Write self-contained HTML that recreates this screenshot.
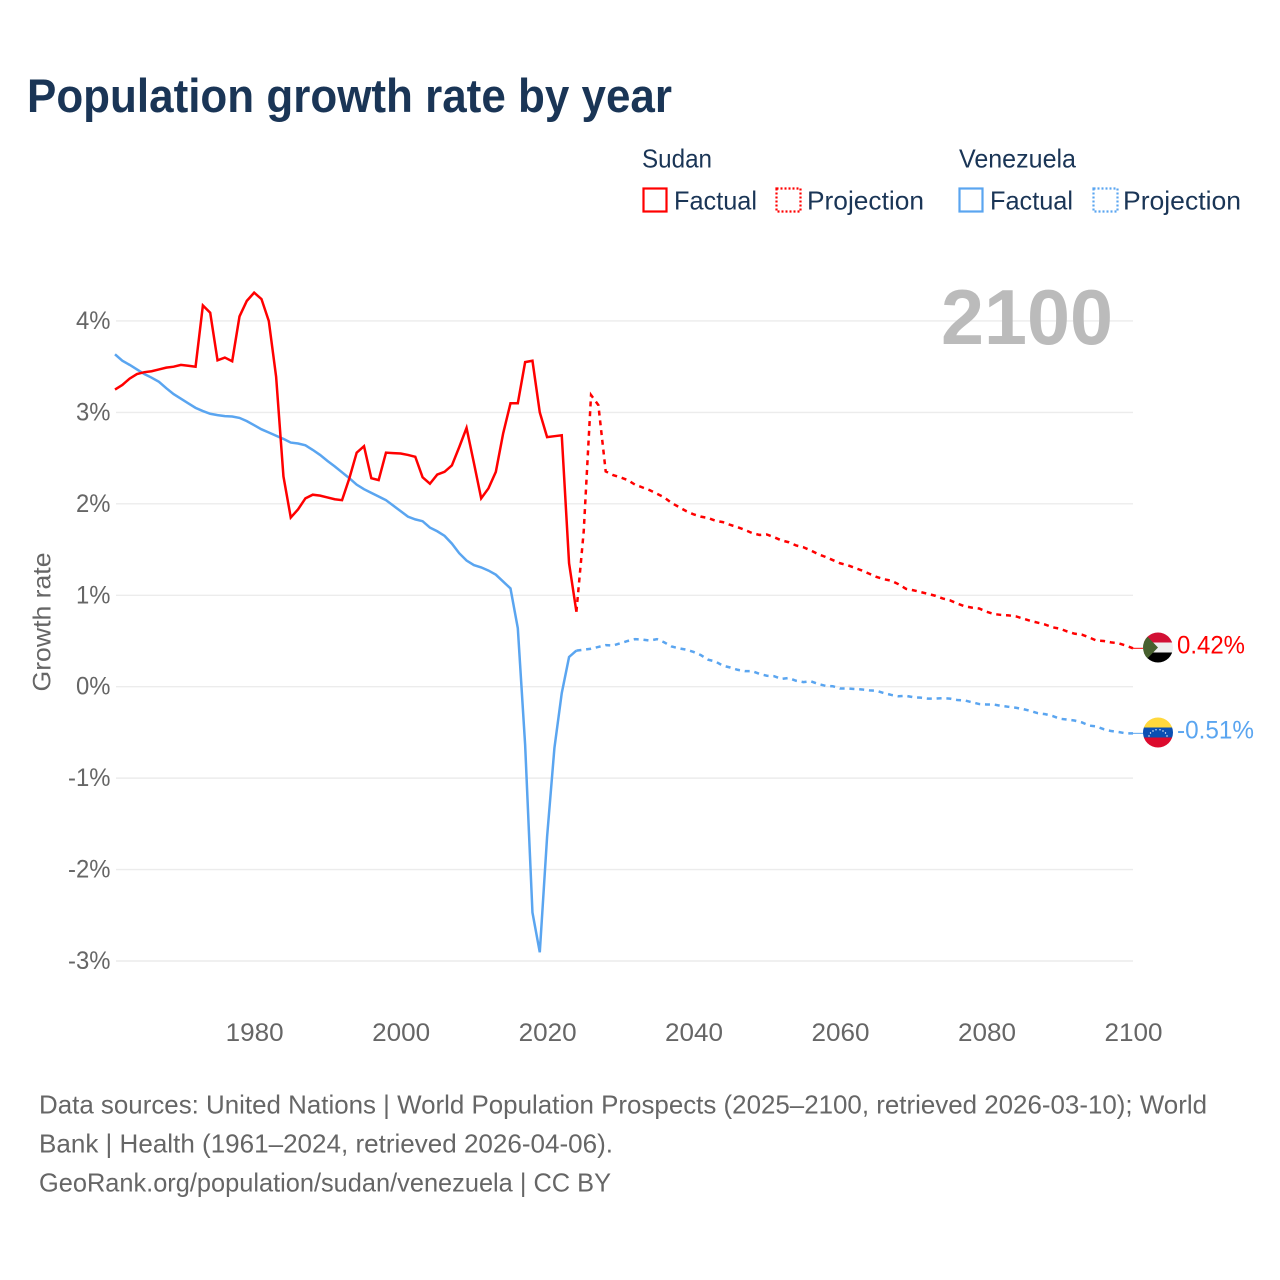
<!DOCTYPE html>
<html lang="en">
<head>
<meta charset="utf-8">
<title>Population growth rate by year</title>
<style>
html,body{margin:0;padding:0;background:#fff;width:1280px;height:1280px;overflow:hidden}
svg{display:block;font-family:"Liberation Sans",sans-serif}
</style>
</head>
<body>
<svg id="chart" xmlns="http://www.w3.org/2000/svg" width="1280" height="1280" viewBox="0 0 1280 1280">
  <defs>
    <clipPath id="clip-sudan"><circle cx="1158" cy="647.5" r="15"/></clipPath>
    <clipPath id="clip-venezuela"><circle cx="1158" cy="732.5" r="15"/></clipPath>
  </defs>
  <rect width="1280" height="1280" fill="#fff"/>
  <text x="27" y="112" font-size="47" font-weight="700" fill="#1a3556" textLength="645" lengthAdjust="spacingAndGlyphs">Population growth rate by year</text>

  <g font-size="26" fill="#1a3556">
    <text x="642" y="167.5" textLength="70" lengthAdjust="spacingAndGlyphs">Sudan</text>
    <text x="959" y="167.5" textLength="117" lengthAdjust="spacingAndGlyphs">Venezuela</text>
    <rect x="643.5" y="188.5" width="23" height="23" fill="none" stroke="#ff0000" stroke-width="2.2"/>
    <text x="674" y="209.5" textLength="83" lengthAdjust="spacingAndGlyphs">Factual</text>
    <rect x="776.5" y="188.5" width="24" height="23" fill="none" stroke="#ff0000" stroke-width="2.2" stroke-dasharray="2 2"/>
    <text x="807" y="209.5" textLength="117" lengthAdjust="spacingAndGlyphs">Projection</text>
    <rect x="959.5" y="188.5" width="23" height="23" fill="none" stroke="#5aa5f0" stroke-width="2.2"/>
    <text x="990" y="209.5" textLength="83" lengthAdjust="spacingAndGlyphs">Factual</text>
    <rect x="1093.5" y="188.5" width="24" height="23" fill="none" stroke="#5aa5f0" stroke-width="2.2" stroke-dasharray="2 2"/>
    <text x="1123" y="209.5" textLength="118" lengthAdjust="spacingAndGlyphs">Projection</text>
  </g>

  <g id="grid"></g>
  <text x="941" y="344" font-size="78" font-weight="700" fill="#bbbbbb" textLength="172" lengthAdjust="spacingAndGlyphs">2100</text>
  <g id="y-axis" font-size="25" fill="#666666"></g>
  <g id="x-axis" font-size="25" fill="#666666"></g>
  <text transform="translate(50.5,622) rotate(-90)" text-anchor="middle" font-size="25" fill="#666666" textLength="139" lengthAdjust="spacingAndGlyphs">Growth rate</text>
  <g id="series"></g>

  <g clip-path="url(#clip-sudan)">
    <rect x="1143" y="632" width="30" height="10.5" fill="#d21034"/>
    <rect x="1143" y="642.5" width="30" height="10" fill="#eeeeee"/>
    <rect x="1143" y="652.5" width="30" height="11" fill="#000000"/>
    <polygon points="1143,632 1158,647.5 1143,663" fill="#47602e"/>
  </g>
  <g clip-path="url(#clip-venezuela)">
    <rect x="1143" y="717" width="30" height="10.5" fill="#ffd83d"/>
    <rect x="1143" y="727.5" width="30" height="10" fill="#0b4fb3"/>
    <rect x="1143" y="737.5" width="30" height="11" fill="#dc0a2d"/>
    <g fill="#ffffff">
      <circle cx="1149" cy="736" r=".7"/><circle cx="1150.5" cy="733" r=".7"/><circle cx="1153" cy="731" r=".7"/><circle cx="1156" cy="729.8" r=".7"/>
      <circle cx="1160" cy="729.8" r=".7"/><circle cx="1163" cy="731" r=".7"/><circle cx="1165.5" cy="733" r=".7"/><circle cx="1167" cy="736" r=".7"/>
    </g>
  </g>
  <text id="end-sudan" x="1177" y="653.5" font-size="25" fill="#ff0000" textLength="68" lengthAdjust="spacingAndGlyphs"></text>
  <text id="end-venezuela" x="1177" y="738.5" font-size="25" fill="#5aa5f0" textLength="77" lengthAdjust="spacingAndGlyphs"></text>

  <g font-size="26" fill="#666666">
    <text x="39" y="1113.5" textLength="1168" lengthAdjust="spacingAndGlyphs">Data sources: United Nations | World Population Prospects (2025–2100, retrieved 2026-03-10); World</text>
    <text x="39" y="1152.5" textLength="574" lengthAdjust="spacingAndGlyphs">Bank | Health (1961–2024, retrieved 2026-04-06).</text>
    <text x="39" y="1191.5" textLength="572" lengthAdjust="spacingAndGlyphs">GeoRank.org/population/sudan/venezuela | CC BY</text>
  </g>
</svg>
<script>
const yTickValues = [4, 3, 2, 1, 0, -1, -2, -3];
const yTickLabels = ["4%", "3%", "2%", "1%", "0%", "-1%", "-2%", "-3%"];
const xTickYears = [1980, 2000, 2020, 2040, 2060, 2080, 2100];
const factualStartYear = 1961;
const projectionStartYear = 2024;
const sudanFactual = [
  3.25, 3.30, 3.37, 3.42, 3.44, 3.45, 3.47, 3.49, 3.50, 3.52,
  3.51, 3.50, 4.17, 4.09, 3.57, 3.60, 3.56, 4.05, 4.22, 4.31,
  4.24, 4.00, 3.39, 2.30, 1.85, 1.94, 2.06, 2.10, 2.09, 2.07,
  2.05, 2.04, 2.28, 2.56, 2.63, 2.28, 2.26, 2.56, 2.555, 2.55,
  2.535, 2.515, 2.29, 2.22, 2.32, 2.35, 2.42, 2.62, 2.83, 2.45,
  2.06, 2.17, 2.35, 2.77, 3.10, 3.10, 3.55, 3.565, 3.00, 2.73,
  2.74, 2.75, 1.35, 0.82
];
const sudanProjection = [
  0.82, 1.70, 3.19, 3.08, 2.355, 2.315, 2.29, 2.26, 2.21, 2.18,
  2.15, 2.11, 2.07, 2.01, 1.965, 1.92, 1.885, 1.86, 1.845, 1.815,
  1.80, 1.77, 1.745, 1.715, 1.68, 1.66, 1.665, 1.635, 1.60, 1.58,
  1.545, 1.525, 1.49, 1.45, 1.42, 1.385, 1.35, 1.33, 1.30, 1.27,
  1.235, 1.20, 1.175, 1.16, 1.12, 1.07, 1.055, 1.035, 1.015, 0.995,
  0.965, 0.945, 0.91, 0.88, 0.865, 0.855, 0.82, 0.795, 0.785, 0.78,
  0.77, 0.745, 0.72, 0.70, 0.68, 0.65, 0.635, 0.605, 0.58, 0.57,
  0.54, 0.505, 0.50, 0.485, 0.475, 0.45, 0.42
];
const venezuelaFactual = [
  3.635, 3.565, 3.52, 3.47, 3.42, 3.38, 3.335, 3.265, 3.20, 3.15,
  3.10, 3.05, 3.015, 2.985, 2.97, 2.96, 2.955, 2.94, 2.905, 2.86,
  2.815, 2.78, 2.745, 2.71, 2.67, 2.66, 2.64, 2.59, 2.535, 2.47,
  2.41, 2.345, 2.28, 2.21, 2.16, 2.12, 2.08, 2.04, 1.98, 1.92,
  1.86, 1.83, 1.81, 1.74, 1.70, 1.65, 1.565, 1.46, 1.38, 1.33,
  1.305, 1.27, 1.225, 1.15, 1.075, 0.64, -0.635, -2.47, -2.905, -1.64,
  -0.67, -0.07, 0.325, 0.395
];
const venezuelaProjection = [
  0.395, 0.405, 0.415, 0.435, 0.455, 0.45, 0.475, 0.50, 0.52, 0.515,
  0.505, 0.52, 0.485, 0.44, 0.42, 0.405, 0.38, 0.345, 0.295, 0.275,
  0.23, 0.21, 0.185, 0.17, 0.17, 0.14, 0.12, 0.115, 0.085, 0.095,
  0.065, 0.05, 0.06, 0.03, 0.01, 0.005, -0.02, -0.02, -0.025, -0.03,
  -0.04, -0.045, -0.07, -0.09, -0.105, -0.10, -0.115, -0.12, -0.13, -0.13,
  -0.125, -0.13, -0.145, -0.15, -0.17, -0.19, -0.195, -0.195, -0.21, -0.22,
  -0.23, -0.245, -0.265, -0.29, -0.30, -0.32, -0.35, -0.36, -0.37, -0.39,
  -0.425, -0.435, -0.465, -0.485, -0.495, -0.51, -0.51
];
const sudanEndLabel = "0.42%";
const venezuelaEndLabel = "-0.51%";

const SVG_NS = "http://www.w3.org/2000/svg";
const RED = "#ff0000";
const BLUE = "#5aa5f0";
function xScale(year) { return 115 + (year - 1961) * (1133 - 115) / 139; }
function yScale(value) { return 686.7 - value * 91.43; }
function pointsFor(values, startYear) {
  return values.map(function (v, i) {
    return xScale(startYear + i).toFixed(2) + "," + yScale(v).toFixed(2);
  }).join(" ");
}
function make(tag, attrs, parent) {
  const el = document.createElementNS(SVG_NS, tag);
  Object.keys(attrs).forEach(function (k) { el.setAttribute(k, attrs[k]); });
  parent.appendChild(el);
  return el;
}

const gridGroup = document.getElementById("grid");
const yAxisGroup = document.getElementById("y-axis");
yTickValues.forEach(function (v, i) {
  const line = make("line", { x1: 116, x2: 1133, y1: yScale(v), y2: yScale(v), stroke: "#ececec", "stroke-width": 1.4 }, gridGroup);
  
  
  const label = make("text", { x: 110.5, y: yScale(v) + 8, "text-anchor": "end", textLength: yTickLabels[i].length === 2 ? 34.5 : 42.5, lengthAdjust: "spacingAndGlyphs" }, yAxisGroup);
  label.textContent = yTickLabels[i];
  
  
});

const xAxisGroup = document.getElementById("x-axis");
xTickYears.forEach(function (year) {
  const label = make("text", { x: xScale(year) + 0.5, y: 1041, "text-anchor": "middle", textLength: 58, lengthAdjust: "spacingAndGlyphs" }, xAxisGroup);
  label.textContent = String(year);
  
  
});

const seriesGroup = document.getElementById("series");
const baseStyle = { fill: "none", "stroke-width": 2.5, "stroke-linejoin": "miter" };

const sudanProjectionLine = make("polyline", Object.assign({ points: pointsFor(sudanProjection, projectionStartYear), stroke: RED, "stroke-dasharray": "5 4.8" }, baseStyle), seriesGroup);



const venezuelaProjectionLine = make("polyline", Object.assign({ points: pointsFor(venezuelaProjection, projectionStartYear), stroke: BLUE, "stroke-dasharray": "5 4.8" }, baseStyle), seriesGroup);



const venezuelaFactualLine = make("polyline", Object.assign({ points: pointsFor(venezuelaFactual, factualStartYear), stroke: BLUE }, baseStyle), seriesGroup);



const sudanFactualLine = make("polyline", Object.assign({ points: pointsFor(sudanFactual, factualStartYear), stroke: RED }, baseStyle), seriesGroup);



const sudanConnector = make("line", { x1: xScale(2100), x2: 1145, y1: yScale(sudanProjection[sudanProjection.length - 1]), y2: yScale(sudanProjection[sudanProjection.length - 1]), stroke: RED, "stroke-width": 1 }, seriesGroup);



const venezuelaConnector = make("line", { x1: xScale(2100), x2: 1145, y1: yScale(venezuelaProjection[venezuelaProjection.length - 1]), y2: yScale(venezuelaProjection[venezuelaProjection.length - 1]), stroke: BLUE, "stroke-width": 1 }, seriesGroup);



document.getElementById("end-sudan").textContent = sudanEndLabel;
document.getElementById("end-venezuela").textContent = venezuelaEndLabel;
</script>
</body>
</html>
